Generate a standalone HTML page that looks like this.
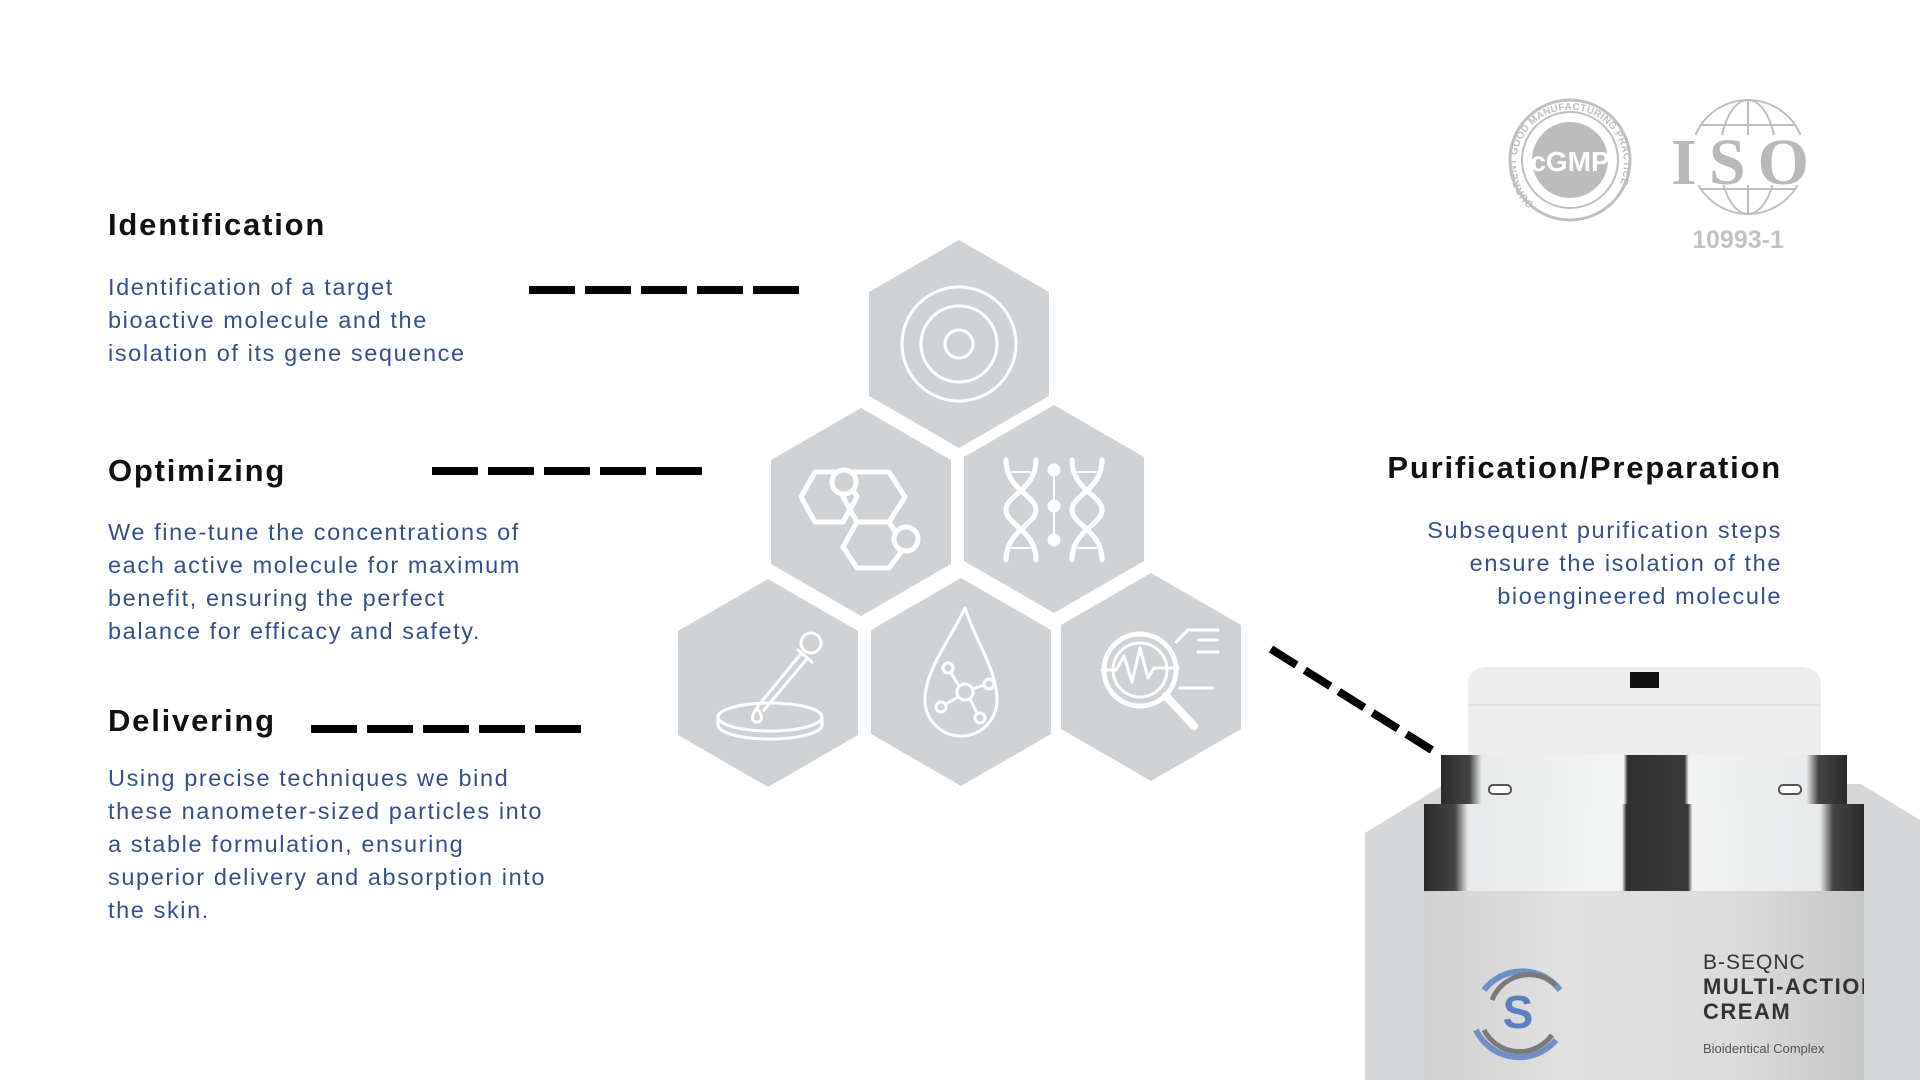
<!DOCTYPE html>
<html><head><meta charset="utf-8"><style>
html,body{margin:0;padding:0;background:#fff;}
body{width:1920px;height:1080px;position:relative;overflow:hidden;font-family:"Liberation Sans",sans-serif;}
.h{position:absolute;font-weight:bold;font-size:31px;color:#111;line-height:36px;white-space:nowrap;letter-spacing:1.8px;}
.b{position:absolute;font-size:23.5px;color:#34508a;line-height:33px;white-space:nowrap;letter-spacing:1.6px;}
svg{position:absolute;left:0;top:0;}
</style></head><body>
<svg width="1920" height="1080" viewBox="0 0 1920 1080">
<defs>
<linearGradient id="silver" x1="0" x2="1" y1="0" y2="0">
<stop offset="0" stop-color="#2a2a2a"/><stop offset="0.07" stop-color="#444"/><stop offset="0.1" stop-color="#e8eaeb"/><stop offset="0.45" stop-color="#f4f5f5"/><stop offset="0.46" stop-color="#2f2f2f"/><stop offset="0.6" stop-color="#3a3a3a"/><stop offset="0.61" stop-color="#f2f3f3"/><stop offset="0.9" stop-color="#e8eaeb"/><stop offset="0.93" stop-color="#444"/><stop offset="1" stop-color="#2a2a2a"/>
</linearGradient>
<linearGradient id="body" x1="0" x2="1"><stop offset="0" stop-color="#cfd0d1"/><stop offset="0.3" stop-color="#e0e0e0"/><stop offset="0.7" stop-color="#dcdcdc"/><stop offset="1" stop-color="#c6c7c8"/></linearGradient>
</defs>
<line x1="529" y1="290" x2="801" y2="290" stroke="#000" stroke-width="8" stroke-dasharray="46 10"/>
<line x1="432" y1="471" x2="704" y2="471" stroke="#000" stroke-width="8" stroke-dasharray="46 10"/>
<line x1="311" y1="729" x2="583" y2="729" stroke="#000" stroke-width="8" stroke-dasharray="46 10"/>
<line x1="1271" y1="649" x2="1435" y2="752" stroke="#000" stroke-width="8" stroke-dasharray="30 10"/>

<g fill="#cfd2d4">
<polygon points="959,240 1049,292 1049,396 959,448 869,396 869,292"/>
<polygon points="861,408 951,460 951,564 861,616 771,564 771,460"/>
<polygon points="1054,405 1144,457 1144,561 1054,613 964,561 964,457"/>
<polygon points="768,579 858,631 858,735 768,787 678,735 678,631"/>
<polygon points="961,578 1051,630 1051,734 961,786 871,734 871,630"/>
<polygon points="1151,573 1241,625 1241,729 1151,781 1061,729 1061,625"/>
</g>
<g fill="none" stroke="#fff" stroke-width="3" stroke-linecap="round" stroke-linejoin="round">
<circle cx="959" cy="344" r="57"/><circle cx="959" cy="344" r="38"/><circle cx="959" cy="344" r="14"/>
<g stroke-width="5">
<polygon points="815,472 843,472 857,497 843,522 815,522 801,497"/>
<polygon points="843,472 889,472 905,497 889,522 857,522 843,497" />
<polygon points="857,522 889,522 905,547 889,568 857,568 843,547"/>
<circle cx="844" cy="482" r="12" fill="#cfd2d4"/><circle cx="906" cy="539" r="12" fill="#cfd2d4"/>
</g>
<g stroke-width="5">
<path d="M1006,460 C1006,490 1036,495 1036,510 C1036,525 1006,530 1006,560"/>
<path d="M1036,460 C1036,490 1006,495 1006,510 C1006,525 1036,530 1036,560"/>
<path d="M1072,460 C1072,490 1102,495 1102,510 C1102,525 1072,530 1072,560"/>
<path d="M1102,460 C1102,490 1072,495 1072,510 C1072,525 1102,530 1102,560"/>
</g>
<g stroke-width="2"><line x1="1012" y1="472" x2="1030" y2="472"/><line x1="1012" y1="548" x2="1030" y2="548"/><line x1="1078" y1="472" x2="1096" y2="472"/><line x1="1078" y1="548" x2="1096" y2="548"/><line x1="1054" y1="470" x2="1054" y2="540"/></g>
<circle cx="1054" cy="470" r="5" fill="#fff"/><circle cx="1054" cy="506" r="5" fill="#fff"/><circle cx="1054" cy="540" r="5" fill="#fff"/>
<ellipse cx="770" cy="717" rx="52" ry="14"/><path d="M718,717 v8 a52,14 0 0 0 104,0 v-8"/>
<path d="M758,706 L800,655"/><path d="M764,710 L806,660"/><circle cx="811" cy="643" r="10"/><line x1="798" y1="650" x2="812" y2="662"/>
<path d="M757,708 c-6,8 -6,14 0,14 c6,0 6,-6 0,-14z"/>
<path d="M965,608 C950,640 925,670 925,700 a36,36 0 0 0 72,0 C997,670 975,640 965,608z" stroke-width="3"/>
<circle cx="965" cy="692" r="8"/><circle cx="948" cy="668" r="5"/><circle cx="989" cy="684" r="5"/><circle cx="941" cy="707" r="5"/><circle cx="980" cy="718" r="5"/>
<line x1="959" y1="686" x2="951" y2="673"/><line x1="972" y1="689" x2="984" y2="685"/><line x1="958" y1="697" x2="946" y2="704"/><line x1="970" y1="699" x2="977" y2="713"/>
<circle cx="1140" cy="670" r="36" stroke-width="5"/><circle cx="1140" cy="670" r="27"/>
<path d="M1102,670 h14 l8,-14 l8,26 l8,-34 l8,30 l6,-10 h24"/>
<path d="M1166,696 l28,30" stroke-width="8"/><path d="M1176,642 l12,-12 h30 M1198,640 h20 M1198,652 h20 M1180,688 h32"/>
</g>

<g fill="none" stroke="#bfbfbf">
<circle cx="1570" cy="160" r="60" stroke-width="3"/>
<circle cx="1570" cy="160" r="48" stroke-width="2"/>
<circle cx="1570" cy="160" r="38" fill="#bcbcbc" stroke="none"/>
<circle cx="1748" cy="157" r="57" stroke-width="2"/>
<ellipse cx="1748" cy="157" rx="28" ry="57" stroke-width="2"/>
<line x1="1748" y1="100" x2="1748" y2="214" stroke-width="2"/>
<path d="M1700,125 h96 M1700,189 h96" stroke-width="2"/>
</g>
<text x="1570" y="171" font-family="Liberation Sans" font-weight="bold" font-size="28" fill="#fff" text-anchor="middle">cGMP</text>
<path id="arc" d="M1534,204 A54,54 0 1 1 1606,204" fill="none"/>
<text font-family="Liberation Sans" font-size="10" font-weight="bold" fill="#bfbfbf"><textPath href="#arc" textLength="235">CURRENT GOOD MANUFACTURING PRACTICE</textPath></text>
<rect x="1672" y="135" width="136" height="50" fill="#fff"/>
<text x="1740" y="184" font-family="Liberation Serif" font-weight="bold" font-size="66" fill="#b9b9b9" text-anchor="middle" textLength="138">ISO</text>
<text x="1738" y="248" font-family="Liberation Sans" font-weight="bold" font-size="25" fill="#c2c2c2" text-anchor="middle">10993-1</text>

<polygon points="1365,833 1445,784 1861,784 1920,820 1920,1080 1365,1080" fill="#d4d6d8"/>
<path d="M1468,759 V685 Q1468,667 1490,667 H1799 Q1821,667 1821,685 V759z" fill="#ededed"/>
<path d="M1468,705 H1821" stroke="#e2e2e2" stroke-width="2"/>
<rect x="1630" y="672" width="29" height="16" fill="#111"/>
<rect x="1441" y="755" width="406" height="53" fill="url(#silver)"/>
<rect x="1489" y="785" width="22" height="9" rx="4" fill="#fff" stroke="#555" stroke-width="2"/>
<rect x="1779" y="785" width="22" height="9" rx="4" fill="#fff" stroke="#555" stroke-width="2"/>
<rect x="1424" y="804" width="440" height="87" fill="url(#silver)"/>
<rect x="1424" y="891" width="440" height="189" fill="url(#body)"/>
<path d="M1484,990 A48,48 0 0 1 1560,990" fill="none" stroke="#6f8fc7" stroke-width="6"/>
<path d="M1492,1000 A40,40 0 0 1 1556,985" fill="none" stroke="#7a7a7a" stroke-width="5"/>
<path d="M1476,1030 A48,48 0 0 0 1556,1040" fill="none" stroke="#6f8fc7" stroke-width="6"/>
<path d="M1484,1030 A40,40 0 0 0 1552,1035" fill="none" stroke="#7a7a7a" stroke-width="5"/>
<text x="1518" y="1028" font-family="Liberation Sans" font-weight="bold" font-size="46" fill="#5b7fbf" text-anchor="middle">S</text>
<g font-family="Liberation Sans" fill="#333">
<text x="1703" y="969" font-size="21" letter-spacing="1">B-SEQNC</text>
<text x="1703" y="994" font-size="22" font-weight="bold" letter-spacing="1.5">MULTI-ACTION</text>
<text x="1703" y="1019" font-size="22" font-weight="bold" letter-spacing="1.5">CREAM</text>
<text x="1703" y="1053" font-size="13" fill="#555">Bioidentical Complex</text>
</g>
<rect x="1864" y="940" width="56" height="140" fill="#d4d6d8"/>
</svg>

<div class="h" style="left:108px;top:207px;">Identification</div>
<div class="b" style="left:108px;top:271px;">Identification of a target<br>bioactive molecule and the<br>isolation of its gene sequence</div>

<div class="h" style="left:108px;top:453px;">Optimizing</div>
<div class="b" style="left:108px;top:516px;">We fine-tune the concentrations of<br>each active molecule for maximum<br>benefit, ensuring the perfect<br>balance for efficacy and safety.</div>

<div class="h" style="left:108px;top:703px;">Delivering</div>
<div class="b" style="left:108px;top:762px;">Using precise techniques we bind<br>these nanometer-sized particles into<br>a stable formulation, ensuring<br>superior delivery and absorption into<br>the skin.</div>

<div class="h" style="right:138px;top:450px;text-align:right;">Purification/Preparation</div>
<div class="b" style="right:138px;top:514px;text-align:right;">Subsequent purification steps<br>ensure the isolation of the<br>bioengineered molecule</div>
</body></html>
